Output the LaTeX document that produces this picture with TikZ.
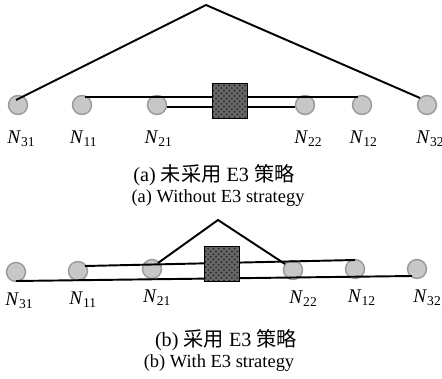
\documentclass[tikz,border=0pt]{standalone}
\usepackage{fontspec}
\setmainfont{Liberation Serif}
\newfontfamily\cjk{Noto Sans CJK SC}
\usetikzlibrary{positioning,patterns}

\begin{document}
\begin{tikzpicture}[
  x=0.02cm, y=-0.02cm,
  station/.style={
    circle,
    draw=black!40,
    fill=black!22,
    line width=0.8pt,
    minimum size=0.38cm,
    inner sep=0pt
  },
  block/.style={
    draw=black,
    line width=1pt,
    minimum size=0.7cm,
    preaction={fill=black!60},
    pattern=crosshatch dots,
    pattern color=black!90
  },
  link/.style={line width=1.1pt},
  tag/.style={font=\fontsize{11}{13}\selectfont, inner sep=0pt},
  caption/.style={font=\fontsize{10.5}{13}\selectfont, inner sep=0pt}
]
\useasboundingbox (0,0) rectangle (442,378);

% (a) without E3
\node[station] (a31) at (18,105) {};
\node[station] (a11) at (82,105) {};
\node[station] (a21) at (157,105) {};
\node[station] (a22) at (305,105) {};
\node[station] (a12) at (362,105) {};
\node[station] (a32) at (427,105) {};
\coordinate (atop) at (206,5);

\draw[link] ([shift={(-2,-5)}]a31.center) -- (atop) -- ([shift={(-7,-7)}]a32.center);
\draw[link] ([shift={(3,-8)}]a11.center) -- ([shift={(-4,-8)}]a12.center);
\draw[link] ([shift={(0,2)}]a21.east) -- ([shift={(0,2)}]a22.west);
\node[block] (ablk) at (230,101) {};

\node[tag, below=0.3cm of a31, xshift=2pt] (la31) {\textit{N}\textsubscript{31}};
\node[tag, below=0.3cm of a11, xshift=1pt] (la11) {\textit{N}\textsubscript{11}};
\node[tag, below=0.3cm of a21, xshift=1pt] (la21) {\textit{N}\textsubscript{21}};
\node[tag, below=0.3cm of a22, xshift=2pt] (la22) {\textit{N}\textsubscript{22}};
\node[tag, below=0.3cm of a12, xshift=1pt] (la12) {\textit{N}\textsubscript{12}};
\node[tag, below=0.3cm of a32, xshift=2pt] (la32) {\textit{N}\textsubscript{32}};

\node[caption, font=\fontsize{11.5}{13}\selectfont] (capa) at (214,175) {(a) {\cjk 未采用} E3 {\cjk 策略}};
\node[caption] (capae) at (218,198) {(a) Without E3 strategy};

% (b) with E3
\node[station] (b31) at (16,272) {};
\node[station] (b11) at (78,271) {};
\node[station] (b21) at (152,269) {};
\node[station] (b22) at (293,270) {};
\node[station] (b12) at (355,269) {};
\node[station] (b32) at (417,269) {};
\coordinate (btop) at (218,220);

\draw[link] ([shift={(7,-5)}]b11.center) -- ([shift={(0,-9)}]b12.center);
\draw[link] ([shift={(0,9)}]b31.center) -- ([shift={(-5,7)}]b32.center);
\draw[link] ([shift={(6,-6)}]b21.center) -- (btop) -- ([shift={(-8,-6)}]b22.center);
\node[block] (bblk) at (222,264) {};

\node[tag, below=0.2cm of b31, xshift=2pt] (lb31) {\textit{N}\textsubscript{31}};
\node[tag, below=0.2cm of b11, xshift=3pt] (lb11) {\textit{N}\textsubscript{11}};
\node[tag, below=0.2cm of b21, xshift=3pt] (lb21) {\textit{N}\textsubscript{21}};
\node[tag, below=0.2cm of b22, xshift=6pt] (lb22) {\textit{N}\textsubscript{22}};
\node[tag, below=0.2cm of b12, xshift=4pt] (lb12) {\textit{N}\textsubscript{12}};
\node[tag, below=0.2cm of b32, xshift=6pt] (lb32) {\textit{N}\textsubscript{32}};

\node[caption, font=\fontsize{11.5}{13}\selectfont] (capb) at (226,340) {(b) {\cjk 采用} E3 {\cjk 策略}};
\node[caption] (capbe) at (219,363) {(b) With E3 strategy};
\end{tikzpicture}
\end{document}
